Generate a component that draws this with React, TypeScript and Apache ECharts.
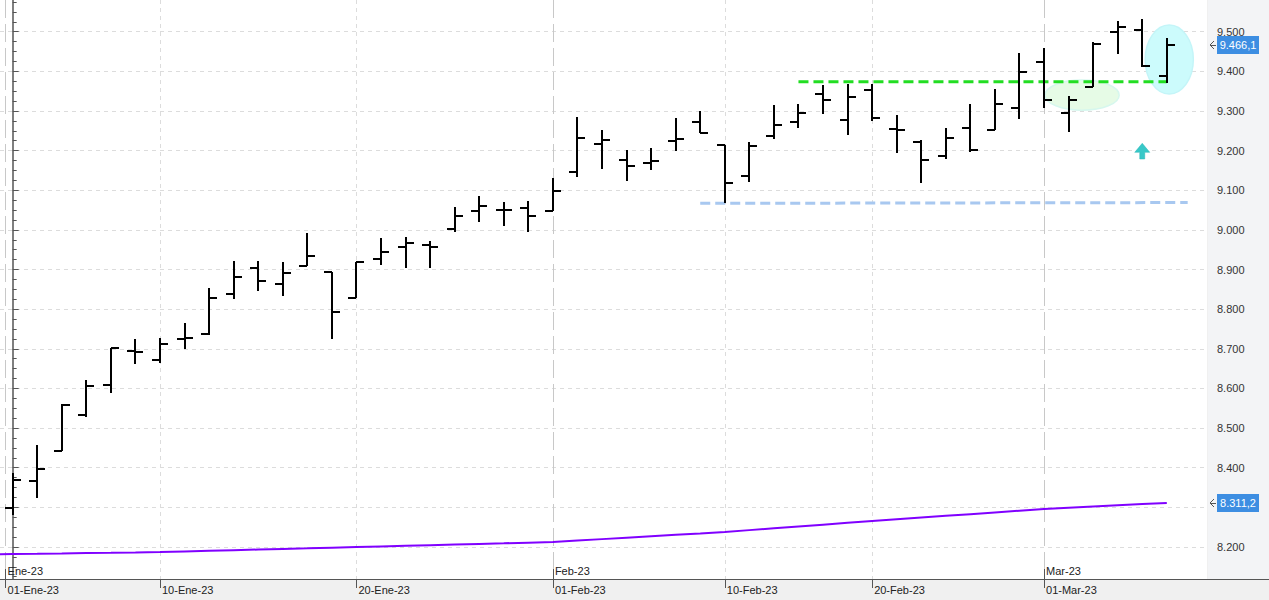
import React, { useEffect, useRef } from "react";
import * as echarts from "echarts";

// ---- data ----
const dates = [
  "02-Ene-23", "03-Ene-23", "04-Ene-23", "05-Ene-23", "06-Ene-23",
  "09-Ene-23", "10-Ene-23", "11-Ene-23", "12-Ene-23", "13-Ene-23",
  "16-Ene-23", "17-Ene-23", "18-Ene-23", "19-Ene-23", "20-Ene-23",
  "23-Ene-23", "24-Ene-23", "25-Ene-23", "26-Ene-23", "27-Ene-23",
  "30-Ene-23", "31-Ene-23", "01-Feb-23", "02-Feb-23", "03-Feb-23",
  "06-Feb-23", "07-Feb-23", "08-Feb-23", "09-Feb-23", "10-Feb-23",
  "13-Feb-23", "14-Feb-23", "15-Feb-23", "16-Feb-23", "17-Feb-23",
  "20-Feb-23", "21-Feb-23", "22-Feb-23", "23-Feb-23", "24-Feb-23",
  "27-Feb-23", "28-Feb-23", "01-Mar-23", "02-Mar-23", "03-Mar-23",
  "06-Mar-23", "07-Mar-23", "08-Mar-23",
];
const opens = [
  8298, 8367, 8443, 8532, 8609, 8695, 8671, 8725, 8738, 8839,
  8905, 8864, 8910, 8894, 8828, 8927, 8958, 8962, 9002, 9048,
  9051, 9055, 9048, 9147, 9216, 9177, 9168, 9225, 9273, 9214,
  9137, 9237, 9273, 9342, 9278, 9354, 9255, 9222, 9187, 9258,
  9253, 9307, 9423, 9296, 9361, 9500, 9504, 9388,
];
const highs = [
  8386, 8457, 8561, 8621, 8703, 8725, 8727, 8765, 8853, 8922,
  8922, 8918, 8991, 8895, 8920, 8980, 8982, 8972, 9058, 9086,
  9070, 9072, 9130, 9284, 9252, 9202, 9206, 9282, 9300, 9214,
  9221, 9315, 9318, 9366, 9368, 9368, 9289, 9227, 9256, 9318,
  9355, 9446, 9458, 9339, 9475, 9528, 9531, 9483,
];
const lows = [
  8282, 8324, 8443, 8528, 8588, 8661, 8665, 8699, 8735, 8826,
  8847, 8832, 8909, 8726, 8828, 8911, 8905, 8905, 8994, 9021,
  9011, 8994, 9048, 9133, 9154, 9124, 9150, 9200, 9245, 9069,
  9122, 9230, 9258, 9292, 9240, 9274, 9195, 9119, 9180, 9196,
  9253, 9279, 9307, 9248, 9360, 9443, 9412, 9370,
];
const closes = [
  8369, 8398, 8558, 8607, 8703, 8693, 8713, 8728, 8829, 8882,
  8872, 8891, 8935, 8794, 8920, 8944, 8968, 8957, 9035, 9061,
  9049, 9035, 9098, 9233, 9228, 9162, 9175, 9230, 9245, 9119,
  9212, 9265, 9296, 9328, 9336, 9282, 9253, 9176, 9233, 9202,
  9317, 9398, 9328, 9328, 9468, 9513, 9414, 9466.1,
];
// moving average, first value belongs to the session before 02-Ene-23
const maStart = -1;
const maValues = [
  8181.6, 8182.4, 8183.1, 8183.9, 8184.8, 8185.5, 8186.3, 8187.4, 8188.9, 8190.5,
  8192.1, 8193.6, 8195.2, 8196.7, 8198.4, 8200.0, 8201.5, 8203.1, 8204.7, 8206.3,
  8207.9, 8209.4, 8211.0, 8212.6, 8216.2, 8219.9, 8223.4, 8227.0, 8230.7, 8234.3,
  8238.0, 8242.6, 8247.2, 8251.8, 8256.4, 8261.0, 8265.6, 8269.9, 8274.3, 8278.6,
  8282.9, 8287.3, 8291.6, 8295.9, 8299.0, 8302.0, 8305.1, 8308.2, 8311.2,
];
const resistanceLine = [[32, 9374], [47, 9374]];
const supportLine = [[28, 9067], [47.85, 9069]];
// ellipses: [centerIdx, centerValue, radiusIdx, radiusValue]
const ellipses = [[43.55, 9340, 1.51, 38], [47.1, 9430, 0.98, 87]];
const ellipseFills = ["#e6fbe6", "#ccfbfc"];
const ellipseStrokes = ["#d6f7ee", "#c4f5f8"];
// arrow: [idx, tipValue, headBaseValue, shaftBottomValue]
const arrows = [[46, 9218.5, 9195.7, 9178.9]];

const dayLabelPos = [-0.29, 6, 14, 22, 29, 35, 42];
const dayLabelText = ["01-Ene-23", "10-Ene-23", "20-Ene-23", "01-Feb-23", "10-Feb-23", "20-Feb-23", "01-Mar-23"];
const monthPos = [-0.29, 22, 42];
const monthText = ["Ene-23", "Feb-23", "Mar-23"];
const dayGridPos = [6, 14, 29, 35];
const yTickValues = [8200, 8300, 8400, 8500, 8600, 8700, 8800, 8900, 9000, 9100, 9200, 9300, 9400, 9500];
// 8.300 is covered by the moving-average price tag in the reference
const yLabelValues = [8200, 8400, 8500, 8600, 8700, 8800, 8900, 9000, 9100, 9200, 9300, 9400, 9500];
const yMinorValues = [
  8125, 8150, 8175, 8225, 8250, 8275, 8325, 8350, 8375, 8425, 8450, 8475,
  8525, 8550, 8575, 8625, 8650, 8675, 8725, 8750, 8775, 8825, 8850, 8875,
  8925, 8950, 8975, 9025, 9050, 9075, 9125, 9150, 9175, 9225, 9250, 9275,
  9325, 9350, 9375, 9425, 9450, 9475, 9525, 9550, 9575,
];

const X_MIN = -0.516;
const X_MAX = 48.637;
const Y_MIN = 8119.3;
const Y_MAX = 9580;
const FONT = "'Liberation Sans', Arial, sans-serif";

function nearestText(v: number, pos: number[], txt: string[]) {
  let best = 0;
  for (let i = 1; i < pos.length; i++) {
    if (Math.abs(pos[i] - v) < Math.abs(pos[best] - v)) best = i;
  }
  return txt[best];
}
function fmtY(v: number) {
  const r = Math.round(v);
  return Math.floor(r / 1000) + "." + String(r % 1000).padStart(3, "0");
}
function fmtPrice(v: number) {
  const tenths = Math.round(v * 10);
  const ip = Math.floor(tenths / 10);
  const dec = tenths % 10;
  return Math.floor(ip / 1000) + "." + String(ip % 1000).padStart(3, "0") + "," + dec;
}

export default function App() {
  const ref = useRef<HTMLDivElement>(null);
  useEffect(() => {
    if (!ref.current) return;
    const chart = echarts.init(ref.current, null, { renderer: "svg" });
    const ohlc = dates.map((_, i) => [i, opens[i], highs[i], lows[i], closes[i]]);
    const ma = maValues.map((v, i) => [i + maStart, v]);

    const option: any = {
      animation: false,
      backgroundColor: "#f0f0f0",
      textStyle: { fontFamily: FONT },
      grid: {
        left: 0, right: 62, top: 0, bottom: 21,
        containLabel: false, outerBoundsMode: "none",
        show: true, backgroundColor: "#ffffff", borderWidth: 0,
      },
      xAxis: [
        {
          type: "value", min: X_MIN, max: X_MAX, position: "bottom",
          axisLine: { show: true, lineStyle: { color: "#555", width: 1 } },
          axisTick: { show: true, customValues: dayLabelPos, length: 9, lineStyle: { color: "#555" } },
          axisLabel: {
            customValues: dayLabelPos, formatter: (v: number) => nearestText(v, dayLabelPos, dayLabelText),
            align: "left", margin: 5, fontSize: 11, color: "#222", fontFamily: FONT, padding: [0, 0, 0, 2],
          },
          splitLine: { show: false },
        },
        {
          type: "value", min: X_MIN, max: X_MAX, position: "bottom",
          axisLine: { show: false },
          axisTick: { show: true, inside: true, customValues: monthPos, length: 10, lineStyle: { color: "#555" } },
          axisLabel: {
            inside: true, customValues: monthPos, formatter: (v: number) => nearestText(v, monthPos, monthText),
            align: "left", margin: 3, fontSize: 11, color: "#222", fontFamily: FONT, padding: [0, 0, 0, 2],
          },
          splitLine: { show: true, lineStyle: { color: "#c8c8c8", width: 1, type: [18, 6] } },
        },
        {
          type: "value", min: X_MIN, max: X_MAX, position: "bottom",
          axisLine: { show: false },
          axisTick: { show: false, customValues: dayGridPos },
          axisLabel: { show: false, customValues: dayGridPos },
          splitLine: { show: true, lineStyle: { color: "#dcdcdc", width: 1, type: [4, 4] } },
        },
      ],
      yAxis: [
        {
          type: "value", min: Y_MIN, max: Y_MAX, position: "right",
          axisLine: { show: true, lineStyle: { color: "#555", width: 1.5 } },
          axisTick: { show: true, customValues: yTickValues, length: 6, lineStyle: { color: "#555" } },
          axisLabel: { show: false, customValues: yTickValues },
          splitLine: { show: true, lineStyle: { color: "#dcdcdc", width: 1, type: [4, 4] } },
        },
        {
          type: "value", min: Y_MIN, max: Y_MAX, position: "right",
          axisLine: { show: false },
          axisTick: { show: true, customValues: yMinorValues, length: 4, lineStyle: { color: "#555" } },
          axisLabel: { show: false, customValues: yMinorValues },
          splitLine: { show: false },
        },
        {
          type: "value", min: Y_MIN, max: Y_MAX, position: "right",
          axisLine: { show: false },
          axisTick: { show: false, customValues: yLabelValues },
          axisLabel: {
            customValues: yLabelValues, formatter: (v: number) => fmtY(v),
            margin: 10, fontSize: 11, color: "#333", fontFamily: FONT,
          },
          splitLine: { show: false },
        },
      ],
      series: [
        {
          type: "custom", name: "marks", z: 1, silent: true,
          data: ellipses,
          renderItem: (params: any, api: any) => {
            const c = api.coord([api.value(0), api.value(1)]);
            const s = api.size([api.value(2), api.value(3)]);
            return {
              type: "ellipse",
              shape: { cx: c[0], cy: c[1], rx: s[0], ry: s[1] },
              style: { fill: ellipseFills[params.dataIndex], stroke: ellipseStrokes[params.dataIndex], lineWidth: 1.5 },
            };
          },
        },
        {
          type: "line", name: "MA", z: 2, data: ma, showSymbol: false, symbol: "none",
          lineStyle: { color: "#8000ff", width: 2 }, clip: true,
        },
        {
          type: "line", name: "support", z: 3, data: supportLine, showSymbol: false, symbol: "none",
          lineStyle: { color: "#a8c8f0", width: 3, type: [10, 5] },
        },
        {
          type: "line", name: "resistance", z: 3, data: resistanceLine, showSymbol: false, symbol: "none",
          lineStyle: { color: "#22dd22", width: 3, type: [10, 5] },
        },
        {
          type: "custom", name: "OHLC", z: 5,
          data: ohlc,
          renderItem: (params: any, api: any) => {
            const i = api.value(0);
            const o = api.coord([i, api.value(1)]);
            const h = api.coord([i, api.value(2)]);
            const l = api.coord([i, api.value(3)]);
            const c = api.coord([i, api.value(4)]);
            const x = Math.round(o[0]);
            const w = Math.round(api.size([1, 0])[0] * 0.34);
            const st = { stroke: "#000", lineWidth: 2 };
            const yo = Math.round(o[1]);
            const yc = Math.round(c[1]);
            return {
              type: "group",
              children: [
                { type: "line", shape: { x1: x, y1: Math.round(h[1]), x2: x, y2: Math.round(l[1]) }, style: st },
                { type: "line", shape: { x1: x - w, y1: yo, x2: x, y2: yo }, style: st },
                { type: "line", shape: { x1: x, y1: yc, x2: x + w, y2: yc }, style: st },
              ],
            };
          },
        },
        {
          type: "custom", name: "arrow", z: 6, silent: true,
          data: arrows,
          renderItem: (params: any, api: any) => {
            const tip = api.coord([api.value(0), api.value(1)]);
            const base = api.coord([api.value(0), api.value(2)]);
            const bot = api.coord([api.value(0), api.value(3)]);
            const x = tip[0];
            return {
              type: "polygon",
              shape: {
                points: [
                  [x, tip[1]], [x + 7.5, base[1]], [x + 2.5, base[1]], [x + 2.5, bot[1]],
                  [x - 2.5, bot[1]], [x - 2.5, base[1]], [x - 7.5, base[1]],
                ],
              },
              style: { fill: "#38c8c8", stroke: "#2fb8b8", lineWidth: 0.5 },
            };
          },
        },
      ],
    };
    chart.setOption(option);

    const yLast = chart.convertToPixel({ yAxisIndex: 0 }, closes[closes.length - 1]) as number;
    const yMa = chart.convertToPixel({ yAxisIndex: 0 }, maValues[maValues.length - 1]) as number;
    const priceTag = (y: number, txt: string) => [
      { type: "rect", z: 100, shape: { x: 1217, y: Math.round(y) - 9, width: 42, height: 18 }, style: { fill: "#3d8ee2" } },
      {
        type: "text", z: 101, x: 1238, y: Math.round(y),
        style: { text: txt, fill: "#ffffff", font: `11px ${FONT}`, align: "center", verticalAlign: "middle" },
      },
      {
        type: "polyline", z: 101,
        shape: { points: [[1214, Math.round(y) - 4], [1210, Math.round(y)], [1214, Math.round(y) + 4]] },
        style: { stroke: "#555", lineWidth: 1, fill: null },
      },
      { type: "line", z: 101, shape: { x1: 1210, y1: Math.round(y) + 0.5, x2: 1216, y2: Math.round(y) + 0.5 }, style: { stroke: "#555", lineWidth: 1 } },
    ];
    chart.setOption({
      graphic: [
        { type: "rect", z: -10, shape: { x: 1208, y: 0, width: 61, height: 579 }, style: { fill: "#f3f4f6" } },
        { type: "line", z: 50, shape: { x1: 1207, y1: 579.5, x2: 1269, y2: 579.5 }, style: { stroke: "#555", lineWidth: 1 } },
        ...priceTag(yLast, fmtPrice(closes[closes.length - 1])),
        ...priceTag(yMa, fmtPrice(maValues[maValues.length - 1])),
      ],
    });

    return () => chart.dispose();
  }, []);
  return <div ref={ref} style={{ position: "fixed", left: 0, top: 0, width: 1269, height: 600 }} />;
}
